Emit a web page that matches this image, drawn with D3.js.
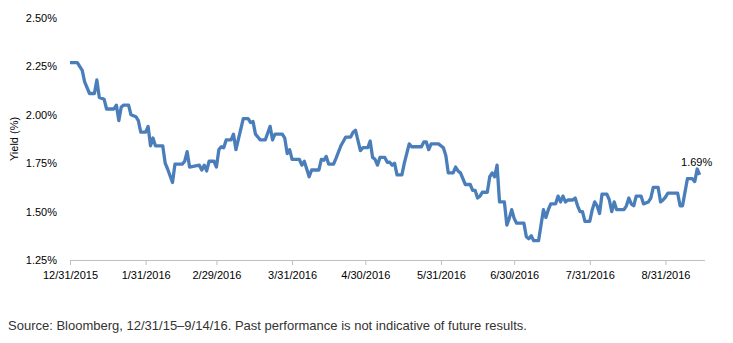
<!DOCTYPE html>
<html>
<head>
<meta charset="utf-8">
<script src="https://cdn.jsdelivr.net/npm/d3@7"></script>
<style>
  html, body { margin: 0; padding: 0; background: #fff; }
  svg { display: block; }
  text { font-family: "Liberation Sans", Arial, sans-serif; }
</style>
</head>
<body>
<svg id="chart" width="733" height="343"></svg>
<script>
// ---- data ----
const dates = [
  "2015-12-31","2016-01-03","2016-01-05","2016-01-06","2016-01-08","2016-01-10","2016-01-11","2016-01-12",
  "2016-01-14","2016-01-15","2016-01-18","2016-01-19","2016-01-20","2016-01-21","2016-01-22","2016-01-24",
  "2016-01-25","2016-01-27","2016-01-28","2016-01-29","2016-01-31","2016-02-01","2016-02-02","2016-02-03",
  "2016-02-04","2016-02-07","2016-02-08","2016-02-09","2016-02-11","2016-02-12","2016-02-15","2016-02-16",
  "2016-02-17","2016-02-18","2016-02-22","2016-02-23","2016-02-24","2016-02-25","2016-02-26","2016-02-28",
  "2016-02-29","2016-03-01","2016-03-02","2016-03-03","2016-03-04","2016-03-06","2016-03-07","2016-03-08",
  "2016-03-11","2016-03-13","2016-03-14","2016-03-15","2016-03-16","2016-03-18","2016-03-20","2016-03-22",
  "2016-03-23","2016-03-24","2016-03-27","2016-03-28","2016-03-29","2016-03-30","2016-03-31","2016-04-03",
  "2016-04-04","2016-04-05","2016-04-07","2016-04-08","2016-04-11","2016-04-12","2016-04-13","2016-04-14",
  "2016-04-15","2016-04-17","2016-04-18","2016-04-20","2016-04-22","2016-04-24","2016-04-25","2016-04-26",
  "2016-04-28","2016-04-29","2016-05-01","2016-05-02","2016-05-03","2016-05-04","2016-05-05","2016-05-06",
  "2016-05-08","2016-05-09","2016-05-10","2016-05-11","2016-05-12","2016-05-13","2016-05-15","2016-05-16",
  "2016-05-18","2016-05-19","2016-05-23","2016-05-24","2016-05-25","2016-05-26","2016-05-27","2016-05-30",
  "2016-06-01","2016-06-02","2016-06-03","2016-06-05","2016-06-06","2016-06-07","2016-06-08","2016-06-10",
  "2016-06-12","2016-06-13","2016-06-14","2016-06-15","2016-06-16","2016-06-17","2016-06-19","2016-06-20",
  "2016-06-21","2016-06-22","2016-06-23","2016-06-24","2016-06-26","2016-06-27","2016-06-28","2016-06-29",
  "2016-06-30","2016-07-01","2016-07-04","2016-07-05","2016-07-06","2016-07-07","2016-07-08","2016-07-10",
  "2016-07-11","2016-07-12","2016-07-13","2016-07-14","2016-07-15","2016-07-17","2016-07-18","2016-07-19",
  "2016-07-20","2016-07-21","2016-07-22","2016-07-24","2016-07-25","2016-07-26","2016-07-27","2016-07-28",
  "2016-07-29","2016-07-31","2016-08-01","2016-08-02","2016-08-03","2016-08-04","2016-08-05","2016-08-07",
  "2016-08-08","2016-08-09","2016-08-10","2016-08-11","2016-08-14","2016-08-15","2016-08-16","2016-08-17",
  "2016-08-18","2016-08-19","2016-08-21","2016-08-22","2016-08-24","2016-08-25","2016-08-26","2016-08-28",
  "2016-08-29","2016-08-30","2016-08-31","2016-09-01","2016-09-05","2016-09-06","2016-09-07","2016-09-09",
  "2016-09-11","2016-09-12","2016-09-13","2016-09-14"
];
const yields = [
  2.27,2.27,2.23,2.17,2.11,2.11,2.18,2.09,
  2.08,2.03,2.03,2.05,1.97,2.04,2.05,2.05,
  2.00,1.99,1.97,1.91,1.91,1.94,1.84,1.88,
  1.84,1.84,1.75,1.72,1.65,1.745,1.745,1.76,
  1.81,1.73,1.74,1.715,1.74,1.71,1.76,1.76,
  1.73,1.82,1.835,1.83,1.87,1.87,1.90,1.82,
  1.98,1.98,1.96,1.965,1.90,1.87,1.87,1.94,
  1.87,1.90,1.90,1.88,1.80,1.82,1.77,1.77,
  1.74,1.76,1.68,1.715,1.715,1.77,1.765,1.785,
  1.745,1.745,1.775,1.84,1.885,1.885,1.91,1.92,
  1.815,1.83,1.83,1.865,1.78,1.77,1.74,1.78,
  1.78,1.755,1.755,1.74,1.75,1.69,1.69,1.75,
  1.85,1.835,1.835,1.86,1.86,1.82,1.85,1.85,
  1.83,1.79,1.70,1.70,1.73,1.71,1.70,1.64,
  1.64,1.61,1.61,1.57,1.58,1.60,1.60,1.68,
  1.70,1.68,1.74,1.55,1.55,1.43,1.465,1.51,
  1.465,1.44,1.44,1.37,1.36,1.375,1.35,1.35,
  1.43,1.51,1.47,1.51,1.54,1.54,1.58,1.55,
  1.58,1.55,1.56,1.56,1.57,1.53,1.50,1.50,
  1.45,1.45,1.51,1.55,1.53,1.49,1.59,1.59,
  1.56,1.50,1.55,1.51,1.51,1.53,1.57,1.54,
  1.53,1.58,1.58,1.54,1.55,1.57,1.625,1.625,
  1.55,1.56,1.575,1.595,1.595,1.53,1.53,1.67,
  1.67,1.655,1.72,1.69
];
const xTickDates = ["2015-12-31","2016-01-31","2016-02-29","2016-03-31","2016-04-30","2016-05-31","2016-06-30","2016-07-31","2016-08-31"];
const yTicks = [1.25, 1.50, 1.75, 2.00, 2.25, 2.50];
const xDomain = ["2015-12-31", "2016-09-16"];
const yDomain = [1.25, 2.50];
const yTitle = "Yield (%)";
const endLabel = "1.69%";
const sourceText = "Source: Bloomberg, 12/31/15\u20139/14/16. Past performance is not indicative of future results.";

// ---- drawing ----
const parse = d3.utcParse("%Y-%m-%d");
const svg = d3.select("#chart");

const x = d3.scaleUtc().domain(xDomain.map(parse)).range([70, 704.5]);
const y = d3.scaleLinear().domain(yDomain).range([260, 18]);

const fmtDate = d => `${d.getUTCMonth() + 1}/${d.getUTCDate()}/${d.getUTCFullYear()}`;

// y axis (labels only)
const yAxis = svg.append("g")
  .attr("transform", "translate(60,0)")
  .call(d3.axisLeft(y).tickValues(yTicks).tickSize(0).tickPadding(3)
    .tickFormat(v => v.toFixed(2) + "%"));
yAxis.select(".domain").remove();
yAxis.selectAll("text").attr("font-size", 11).attr("fill", "#000")
  .style("font-family", '"Liberation Sans", Arial, sans-serif');

// x axis
const xAxis = svg.append("g")
  .attr("transform", "translate(0,260)")
  .call(d3.axisBottom(x).tickValues(xTickDates.map(parse)).tickSize(5).tickSizeOuter(0)
    .tickPadding(6).tickFormat(fmtDate));
xAxis.select(".domain").attr("stroke", "#bfbfbf");
xAxis.selectAll(".tick line").attr("stroke", "#bfbfbf");
xAxis.selectAll("text").attr("font-size", 11).attr("fill", "#000")
  .style("font-family", '"Liberation Sans", Arial, sans-serif');

// y title
svg.append("text")
  .attr("transform", `translate(18,${(y.range()[0] + y.range()[1]) / 2}) rotate(-90)`)
  .attr("text-anchor", "middle")
  .attr("font-size", 11)
  .attr("fill", "#000")
  .text(yTitle);

// line
const pts = dates.map((d, i) => ({ date: parse(d), v: yields[i] }));
svg.append("path")
  .datum(pts)
  .attr("fill", "none")
  .attr("stroke", "#4a7ebb")
  .attr("stroke-width", 3.3)
  .attr("stroke-linejoin", "round")
  .attr("d", d3.line().x(p => x(p.date)).y(p => y(p.v)));

// end label
const last = pts[pts.length - 1];
svg.append("text")
  .attr("x", x(last.date) - 3)
  .attr("y", y(last.v) - 9)
  .attr("text-anchor", "middle")
  .attr("font-size", 11)
  .attr("fill", "#000")
  .text(endLabel);

// source
svg.append("text")
  .attr("x", 8)
  .attr("y", 330)
  .attr("font-size", 13)
  .attr("fill", "#333")
  .text(sourceText);
</script>
</body>
</html>
